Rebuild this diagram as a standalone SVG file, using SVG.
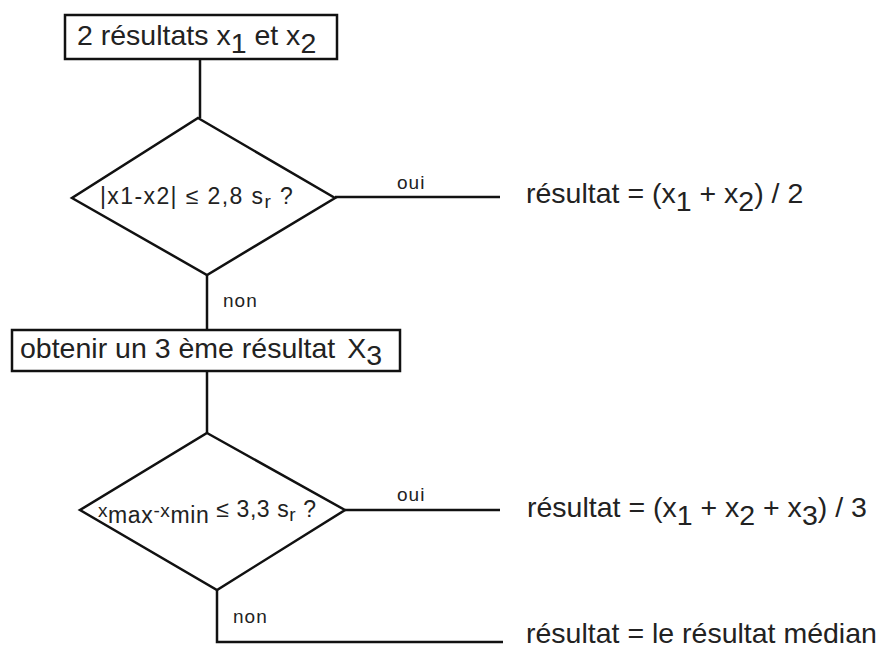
<svg xmlns="http://www.w3.org/2000/svg" width="881" height="649" viewBox="0 0 881 649">
<style>
.s{fill:none;stroke:#111;stroke-width:2.5}
.b{fill:#fff;stroke:#111;stroke-width:2.5}
.t{font-family:"Liberation Sans",Arial,sans-serif;font-size:28.5px;fill:#222}
.d{font-family:"Liberation Sans",Arial,sans-serif;font-size:23px;fill:#222}
.l{font-family:"Liberation Sans",Arial,sans-serif;font-size:19px;letter-spacing:1px;fill:#222}
</style>
<rect width="881" height="649" fill="#fff"/>
<g id="connectors">
<line class="s" x1="200" y1="59" x2="200" y2="118"/>
<line class="s" x1="207" y1="275" x2="207" y2="330"/>
<line class="s" x1="335" y1="197" x2="500" y2="197"/>
<line class="s" x1="207" y1="371" x2="207" y2="433"/>
<line class="s" x1="345" y1="510" x2="500" y2="510"/>
<polyline class="s" points="217,590 217,642 503,642"/>
<text class="l" x="397" y="189">oui</text>
<text class="l" x="223" y="307">non</text>
<text class="l" x="397" y="501">oui</text>
<text class="l" x="233" y="623">non</text>
</g>
<g id="n1">
<rect class="b" x="65" y="15" width="272" height="44"/>
<text class="t" x="77" y="45">2 résultats x<tspan dy="8">1</tspan><tspan dy="-8"> et x</tspan><tspan dy="8">2</tspan></text>
</g>
<g id="n2">
<polygon class="b" points="198,118 335,198 207,275 72,198"/>
<text class="d" x="100" y="204" letter-spacing="1.4">|x1-x2| ≤ 2,8 s<tspan dy="4" font-size="19">r</tspan><tspan dy="-4"> ?</tspan></text>
</g>
<g id="n3">
<text class="t" x="526" y="203">résultat = (x<tspan dy="8">1</tspan><tspan dy="-8"> + x</tspan><tspan dy="8">2</tspan><tspan dy="-8">) / 2</tspan></text>
</g>
<g id="n4">
<rect class="b" x="12" y="330" width="388" height="41"/>
<text class="t" x="20" y="358">obtenir un 3 ème résultat<tspan dx="12">X</tspan><tspan dy="7">3</tspan></text>
</g>
<g id="n5">
<polygon class="b" points="207,433 345,510 217,590 80,510"/>
<text class="d" x="98" y="517" letter-spacing="0.6"><tspan font-size="19">x</tspan><tspan dy="6">max</tspan><tspan dy="-6" font-size="19">-x</tspan><tspan dy="6">min</tspan><tspan dy="-6"> ≤ 3,3 s</tspan><tspan dy="4" font-size="19">r</tspan><tspan dy="-4"> ?</tspan></text>
</g>
<g id="n6">
<text class="t" x="527" y="517">résultat = (x<tspan dy="8">1</tspan><tspan dy="-8"> + x</tspan><tspan dy="8">2</tspan><tspan dy="-8"> + x</tspan><tspan dy="8">3</tspan><tspan dy="-8">) / 3</tspan></text>
</g>
<g id="n7">
<text class="t" x="526" y="643">résultat = le résultat médian</text>
</g>
</svg>
